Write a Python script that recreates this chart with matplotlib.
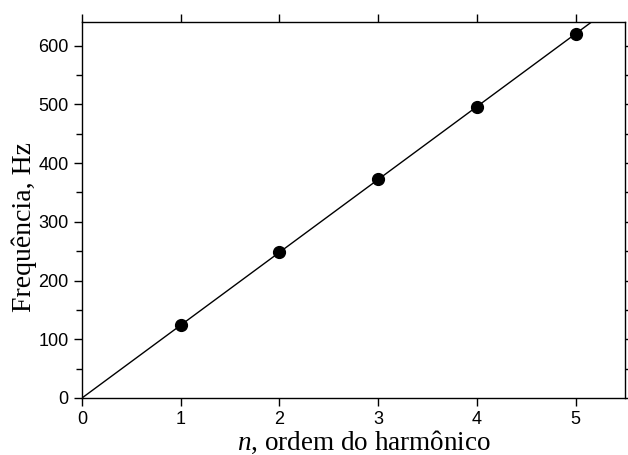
import numpy as np
import matplotlib.pyplot as plt
from matplotlib.ticker import MultipleLocator

n = np.array([1, 2, 3, 4, 5])
freq = np.array([124, 248, 372, 496, 620])

plt.rcParams["font.family"] = ["Liberation Sans", "DejaVu Sans"]
plt.rcParams["mathtext.fontset"] = "custom"
plt.rcParams["mathtext.rm"] = "Liberation Serif"
plt.rcParams["mathtext.it"] = "Liberation Serif:italic"

# fit through the origin
slope = np.sum(n * freq) / np.sum(n * n)
x_fit = np.array([0, 5.5])
y_fit = slope * x_fit

fig = plt.figure(figsize=(6.28, 4.55), dpi=100)
ax = fig.add_axes([82 / 628, 57 / 455, 543 / 628, 376 / 455])

ax.plot(x_fit, y_fit, color="black", linewidth=1)
ax.plot(n, freq, "o", color="black", markersize=8.5)

ax.set_xlim(0, 5.5)
ax.set_ylim(0, 640)
ax.xaxis.set_major_locator(MultipleLocator(1))
ax.yaxis.set_major_locator(MultipleLocator(100))
ax.yaxis.set_minor_locator(MultipleLocator(50))

ax.tick_params(which="both", direction="out", top=True, right=True,
               labeltop=False, labelright=False, width=1, labelsize=13)
ax.tick_params(which="major", length=6)
ax.tick_params(which="minor", length=4)
ax.tick_params(axis="x", which="minor", top=False, bottom=False)
for s in ax.spines.values():
    s.set_linewidth(1)

ax.set_xlabel("$\\it{n}$, ordem do harmônico", fontsize=19.5, family="Liberation Serif")
ax.set_ylabel("Frequência, Hz", fontsize=20, family="Liberation Serif")
ax.xaxis.set_label_coords(0.52, -0.082)
ax.yaxis.set_label_coords(-0.082, 0.455)

fig.savefig("out.png", dpi=100)
